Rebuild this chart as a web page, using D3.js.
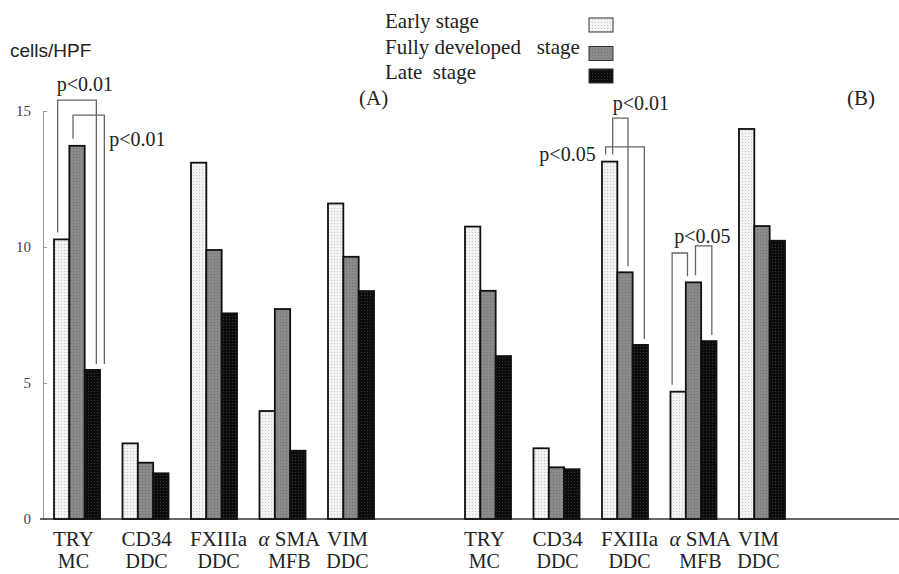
<!DOCTYPE html>
<html>
<head>
<meta charset="utf-8">
<script src="https://cdn.jsdelivr.net/npm/d3@7"></script>
<style>
  body { margin: 0; background: #fff; }
  text { font-family: "Liberation Serif", "Times New Roman", serif; }
</style>
</head>
<body>
<svg id="chart" width="899" height="574"></svg>
<script>
// stages (legend)
const stages = ["Early stage", "Fully developed   stage", "Late  stage"];

// categories, same for both panels
const markers = ["TRY", "CD34", "FXIIIa", "αSMA", "VIM"];
const cellTypes = ["MC", "DDC", "DDC", "MFB", "DDC"];
const panels = ["(A)", "(B)"];

// cells/HPF
const earlyA = [10.28, 2.78, 13.1, 3.97, 11.6];
const fullyA = [13.72, 2.07, 9.89, 7.72, 9.64];
const lateA  = [5.48, 1.68, 7.56, 2.51, 8.38];
const earlyB = [10.75, 2.6, 13.14, 4.68, 14.34];
const fullyB = [8.39, 1.9, 9.07, 8.7, 10.77];
const lateB  = [5.99, 1.83, 6.4, 6.54, 10.23];

const yTicks = [0, 5, 10, 15];

// significance brackets: panel, marker, stage indexes, height of top bar in cells/HPF
const brackets = [
  { panel: "A", marker: "TRY", from: 0, to: 2, top: 15.4 },
  { panel: "A", marker: "TRY", from: 1, to: 2, top: 14.85 },
  { panel: "B", marker: "FXIIIa", from: 0, to: 1, top: 14.74 },
  { panel: "B", marker: "FXIIIa", from: 0, to: 2, top: 13.68 },
  { panel: "B", marker: "αSMA", from: 0, to: 1, top: 9.78 },
  { panel: "B", marker: "αSMA", from: 1, to: 2, top: 10.04 }
];
const pLabels = [
  { panel: "A", marker: "TRY", stage: 0, level: 15.74, text: "p<0.01" },
  { panel: "A", marker: "TRY", stage: 2, level: 13.7, text: "p<0.01" },
  { panel: "B", marker: "FXIIIa", stage: 0, level: 13.16, text: "p<0.05" },
  { panel: "B", marker: "FXIIIa", stage: 0, level: 15.03, text: "p<0.01" },
  { panel: "B", marker: "αSMA", stage: 1, level: 10.16, text: "p<0.05" }
];

const series = {
  A: [earlyA, fullyA, lateA],
  B: [earlyB, fullyB, lateB]
};

const fills = ["#f3f3f3", "#8a8a8a", "#0c0c0c"];
const dots = ["#c4c4c4", "#6e6e6e", "#3a3a3a"];

const svg = d3.select("#chart");

// dotted fills
const defs = svg.append("defs");
stages.forEach((s, i) => {
  const p = defs.append("pattern")
    .attr("id", "pat" + i)
    .attr("patternUnits", "userSpaceOnUse")
    .attr("width", 3).attr("height", 3);
  p.append("rect").attr("width", 3).attr("height", 3).attr("fill", fills[i]);
  p.append("rect").attr("x", 1).attr("y", 1).attr("width", 1).attr("height", 1).attr("fill", dots[i]);
});

// slots: 5 groups, an empty slot, 5 groups
const slots = markers.map(m => "A-" + m).concat(["gap"], markers.map(m => "B-" + m));

const x = d3.scaleBand()
  .domain(slots)
  .range([54, 785])
  .paddingInner(0.328)
  .paddingOuter(0);

const xStage = d3.scaleBand()
  .domain(d3.range(stages.length))
  .range([0, x.bandwidth()]);

const y = d3.scaleLinear()
  .domain([0, 15])
  .range([519, 111]);

const barCenter = (panel, marker, s) => x(panel + "-" + marker) + xStage(s) + xStage.bandwidth() / 2;

// Y axis
const yAxis = svg.append("g")
  .attr("transform", "translate(43,0)")
  .call(d3.axisLeft(y).tickValues(yTicks).tickSizeInner(-4).tickSizeOuter(0).tickPadding(12));
yAxis.select(".domain").attr("stroke", "#9a9a9a");
yAxis.selectAll(".tick line").attr("stroke", "#9a9a9a");
yAxis.selectAll(".tick text")
  .style("font-family", "'Liberation Serif', serif")
  .style("font-size", "15px")
  .attr("fill", "#444");

// baseline
svg.append("line")
  .attr("x1", 40).attr("x2", 899)
  .attr("y1", y(0)).attr("y2", y(0))
  .attr("stroke", "#333").attr("stroke-width", 1.5);

// bars
["A", "B"].forEach(panel => {
  series[panel].forEach((vals, s) => {
    svg.append("g").selectAll("rect")
      .data(vals)
      .enter()
      .append("rect")
      .attr("x", (d, i) => x(panel + "-" + markers[i]) + xStage(s))
      .attr("y", d => y(d))
      .attr("width", xStage.bandwidth())
      .attr("height", d => y(0) - y(d))
      .attr("fill", "url(#pat" + s + ")")
      .attr("stroke", "#111")
      .attr("stroke-width", 1.8);
  });
});

// category labels, two lines, second centred under first
["A", "B"].forEach(panel => {
  markers.forEach((m, i) => {
    const x0 = x(panel + "-" + m) - 1;
    const t1 = svg.append("text")
      .attr("x", x0).attr("y", 546)
      .style("font-size", "21px")
      .attr("fill", "#222");
    if (m.startsWith("α")) {
      t1.append("tspan").style("font-style", "italic").text("α");
      t1.append("tspan").text(" " + m.slice(1));
    } else {
      t1.text(m);
    }
    const w = t1.node().getComputedTextLength();
    svg.append("text")
      .attr("x", x0 + w / 2).attr("y", 568)
      .attr("text-anchor", "middle")
      .style("font-size", "20px")
      .attr("fill", "#222")
      .text(cellTypes[i]);
  });
});

// brackets
const legNudge = [[-4, 4], [-4, 12], [3, 3], [-4, 4], [-6, -6], [2, 3]];
brackets.forEach((b, k) => {
  const vals = series[b.panel];
  const idx = markers.indexOf(b.marker);
  const xa = barCenter(b.panel, b.marker, b.from) + legNudge[k][0];
  const xb = barCenter(b.panel, b.marker, b.to) + legNudge[k][1];
  const ya = y(vals[b.from][idx]) - 7;
  const yb = y(vals[b.to][idx]) - 6;
  svg.append("path")
    .attr("d", `M${xa},${ya}V${y(b.top)}H${xb}V${yb}`)
    .attr("fill", "none")
    .attr("stroke", "#666")
    .attr("stroke-width", 1.3);
});

// p-value labels
const labelNudge = [[-5, "start"], [17, "start"], [-14, "end"], [3, "start"], [9, "middle"]];
pLabels.forEach((p, k) => {
  svg.append("text")
    .attr("x", barCenter(p.panel, p.marker, p.stage) + labelNudge[k][0])
    .attr("y", y(p.level))
    .attr("text-anchor", labelNudge[k][1])
    .style("font-size", "20px")
    .attr("fill", "#222")
    .text(p.text);
});

// axis title
svg.append("text")
  .attr("x", 10).attr("y", 57)
  .style("font-family", "'Liberation Sans', Arial, sans-serif")
  .style("font-size", "19px")
  .attr("fill", "#222")
  .text("cells/HPF");

// panel letters
svg.selectAll(".panel")
  .data(panels)
  .enter()
  .append("text")
  .attr("x", (d, i) => i === 0 ? 359 : 847)
  .attr("y", 105)
  .style("font-size", "21px")
  .attr("fill", "#222")
  .text(d => d);

// legend
const legend = svg.append("g");
stages.forEach((s, i) => {
  legend.append("text")
    .attr("x", 385).attr("y", 28 + i * 25.5)
    .style("font-size", "21px")
    .style("white-space", "pre")
    .attr("fill", "#222")
    .text(s);
  legend.append("rect")
    .attr("x", 589).attr("y", 18 + i * 25.5 + (i === 1 ? 3 : 0))
    .attr("width", 24).attr("height", 14)
    .attr("fill", "url(#pat" + i + ")")
    .attr("stroke", "#333")
    .attr("stroke-width", 1);
});
</script>
</body>
</html>
